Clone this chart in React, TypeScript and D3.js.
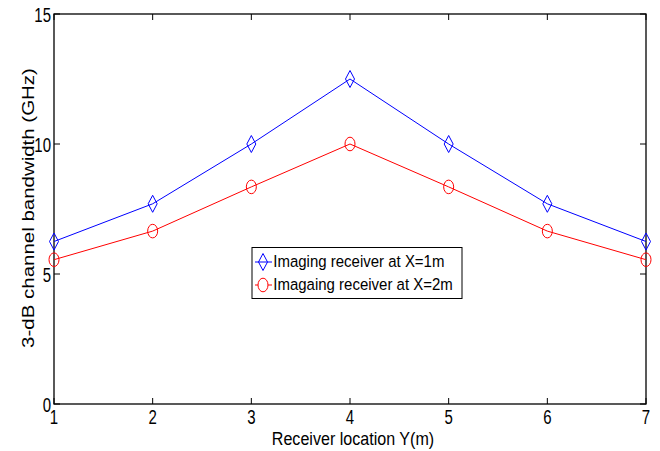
import React from "react";
import * as d3 from "d3";

const locations = [1, 2, 3, 4, 5, 6, 7];
const bwX1 = [6.25, 7.7, 10.0, 12.5, 10.0, 7.7, 6.25];
const bwX2 = [5.55, 6.65, 8.35, 10.0, 8.35, 6.65, 5.55];
const xTicks = [1, 2, 3, 4, 5, 6, 7];
const yTicks = [0, 5, 10, 15];
const seriesNames = ["Imaging receiver at X=1m", "Imagaing receiver at X=2m"];

export default function App() {
  const W = 660, H = 451;
  const left = 54, right = 646, top = 14, bottom = 404;
  const x = d3.scaleLinear().domain([1, 7]).range([left, right]);
  const y = d3.scaleLinear().domain([0, 15]).range([bottom, top]);
  const line = d3.line<number>().x((_, i) => x(locations[i])).y((d) => y(d));
  const font = "'Liberation Sans', Arial, sans-serif";
  const tl = 6;
  const diamond = (cx: number, cy: number) =>
    `M${cx},${cy - 8.5}L${cx + 4.5},${cy}L${cx},${cy + 8.5}L${cx - 4.5},${cy}Z`;

  const T = (props: { x: number; y: number; s: number; size: number; anchor?: string; rot?: boolean; children: any }) => (
    <text
      transform={
        props.rot
          ? `translate(${props.x},${props.y}) rotate(-90) scale(${props.s},1)`
          : `translate(${props.x},${props.y}) scale(1,${props.s})`
      }
      textAnchor={props.anchor || "start"}
      fontFamily={font}
      fontSize={props.size}
      fill="#000"
    >
      {props.children}
    </text>
  );

  return (
    <svg width={W} height={H} style={{ position: "absolute", left: 0, top: 0, background: "#fff" }}>
      <rect x={0} y={0} width={W} height={H} fill="#fff" />
      {xTicks.map((t) => (
        <g key={"xt" + t}>
          <line x1={x(t)} x2={x(t)} y1={bottom} y2={bottom - tl} stroke="#000" />
          <line x1={x(t)} x2={x(t)} y1={top} y2={top + tl} stroke="#000" />
          <T x={x(t)} y={423.5} s={1.3} size={15} anchor="middle">{t}</T>
        </g>
      ))}
      {yTicks.map((t) => (
        <g key={"yt" + t}>
          <line x1={left} x2={left + tl} y1={y(t)} y2={y(t)} stroke="#000" />
          <line x1={right} x2={right - tl} y1={y(t)} y2={y(t)} stroke="#000" />
          <T x={left - 3} y={y(t) + 8} s={1.3} size={15} anchor="end">{t}</T>
        </g>
      ))}
      <rect x={left} y={top} width={right - left} height={bottom - top} fill="none" stroke="#000" strokeWidth={1.3} />
      <path d={line(bwX1) || ""} fill="none" stroke="#0000ff" strokeWidth={1} />
      <path d={line(bwX2) || ""} fill="none" stroke="#ff0000" strokeWidth={1} />
      {bwX1.map((v, i) => (
        <path key={"d" + i} d={diamond(x(locations[i]), y(v))} fill="none" stroke="#0000ff" strokeWidth={1} />
      ))}
      {bwX2.map((v, i) => (
        <ellipse key={"c" + i} cx={x(locations[i])} cy={y(v)} rx={5} ry={6.8} fill="none" stroke="#ff0000" strokeWidth={1} />
      ))}
      <T x={353} y={444.5} s={1.12} size={16.1} anchor="middle">Receiver location Y(m)</T>
      <T x={34} y={208} s={1.28} size={16} anchor="middle" rot>3-dB channel bandwidth (GHz)</T>
      <rect x={252} y={247.5} width={210} height={51} fill="#fff" stroke="#000" strokeWidth={1} />
      <line x1={255} x2={272} y1={262} y2={262} stroke="#0000ff" />
      <path d={diamond(263, 262)} fill="none" stroke="#0000ff" />
      <T x={273.3} y={267.3} s={1.1} size={15}>{seriesNames[0]}</T>
      <line x1={255} x2={272} y1={285} y2={285} stroke="#ff0000" />
      <ellipse cx={263} cy={285} rx={5} ry={6.8} fill="#fff" stroke="#ff0000" />
      <T x={273.3} y={290} s={1.1} size={15}>{seriesNames[1]}</T>
    </svg>
  );
}
